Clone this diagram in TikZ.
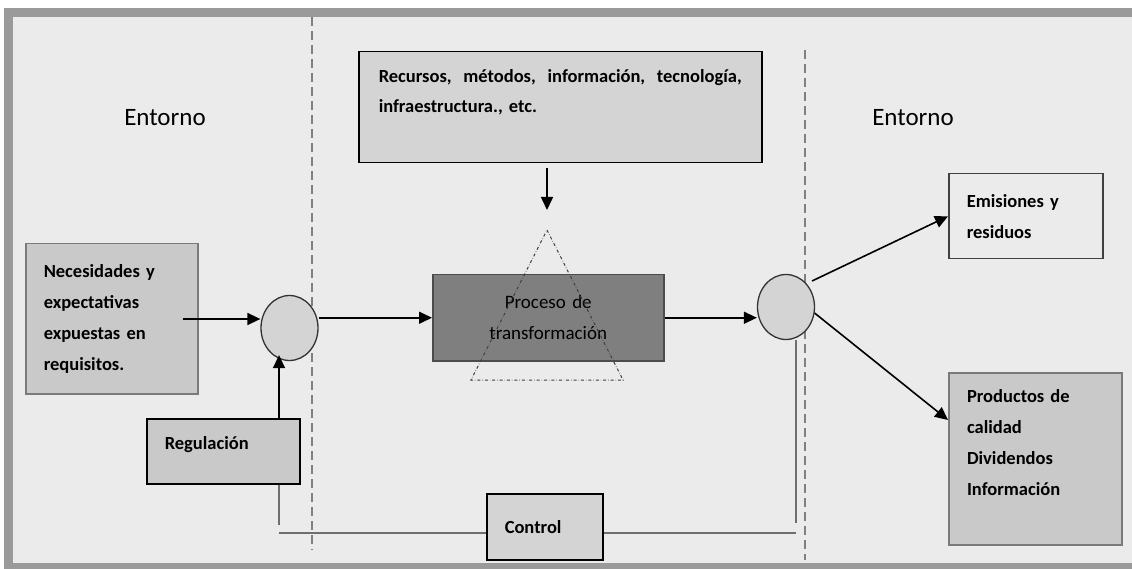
\documentclass[tikz,border=0pt]{standalone}
\usepackage{fontspec}
\setmainfont{Carlito}
\usetikzlibrary{arrows.meta,calc,positioning,shapes.geometric}

\definecolor{fondo}{HTML}{EBEBEB}
\definecolor{marcogris}{HTML}{9A9A9A}
\definecolor{limitegris}{HTML}{808080}
\definecolor{cajagris}{HTML}{C9C9C9}
\definecolor{cajaclara}{HTML}{D4D4D4}
\definecolor{procgris}{HTML}{7F7F7F}
\definecolor{bordegris}{HTML}{7A7A7A}
\definecolor{lazogris}{HTML}{6E6E6E}

\tikzset{
	caja/.style={draw, rectangle, anchor=north west, align=left, inner xsep=18pt, inner ysep=0pt,
		line width=1.5pt, font=\bfseries\fontsize{18.5}{31}\selectfont},
	proceso/.style={draw=black!70, fill=procgris, rectangle, anchor=north west, align=center,
		inner xsep=18pt, inner ysep=0pt, line width=1.5pt, font=\fontsize{19}{31}\selectfont},
	punto/.style={ellipse, draw=black!80, fill=cajaclara, minimum width=57pt, minimum height=65pt,
		inner sep=0pt, line width=1.3pt},
	flecha/.style={-{Triangle[length=13pt,width=12pt]}, line width=1.6pt},
	lazo/.style={draw=lazogris, line width=1.6pt},
	limite/.style={draw=limitegris, dash pattern=on 9pt off 5pt, line width=1.3pt},
	tri/.style={draw=black!75, dash dot, line width=1pt},
	entorno/.style={font=\fontsize{25}{30}\selectfont}
}

\begin{document}
\begin{tikzpicture}[x=1pt,y=-1pt]
	\useasboundingbox (0,0) rectangle (1132,569);
	\fill[fondo] (5,8) rectangle (1150,569);
	\draw[draw=marcogris, line width=8.5pt] (8.5,12.5) rectangle (1160,567.5);
	\draw[limite] (312,17) -- (312,550);
	\draw[limite] (805,50) -- (805,560);
	%
	\node[entorno] (entI) at (165,118) {Entorno};
	\node[entorno] (entD) at (913,118) {Entorno};
	\node[caja, fill=cajaclara, draw=black, inner xsep=20pt, text width=363pt, minimum height=111pt,
		text depth=62pt, font=\bfseries\fontsize{18.5}{30}\selectfont] (rec) at (358,51)
		{Recursos,\hfill métodos,\hfill información,\hfill tecnología,\\ infraestructura., etc.};
	\node[caja, fill=cajagris, draw=bordegris, text width=136pt, minimum height=150pt] (nec) at (25,243)
		{Necesidades y\\ expectativas\\ expuestas en\\ requisitos.};
	\node[caja, fill=cajagris, draw=black, text width=117pt, minimum height=65pt, text depth=16pt] (reg) at (146,418)
		{Regulación};
	\node[caja, fill=cajaclara, draw=black, text width=80pt, minimum height=66pt] (ctrl) at (486,493)
		{Control};
	\node[caja, fill=fondo, draw=black!75, text width=118pt, minimum height=85pt] (emis) at (948,173)
		{Emisiones y\\ residuos};
	\node[caja, fill=cajagris, draw=bordegris, line width=2pt, text width=137pt, minimum height=172pt,
		text depth=125pt] (prod) at (948,372)
		{Productos de\\ calidad\\ Dividendos\\ Información};
	\node[proceso, text width=195pt, minimum height=86pt] (proc) at (432,274)
		{Proceso de\\ transformación};
	\node[punto] (izq) at (289.5,328) {};
	\node[punto] (der) at (786,307) {};
	%
	\coordinate (cima) at (547,230);
	\coordinate (baseI) at (471,380);
	\coordinate (baseD) at (623,380);
	\draw[tri] (cima) -- (baseD) -- (baseI) -- cycle;
	%
	\coordinate (necO) at (183,319);
	\coordinate (lazoI) at (279,525);
	\coordinate (lazoIb) at (279,533);
	\coordinate (lazoD) at (796,523);
	\coordinate (lazoDb) at (796,533);
	\draw[flecha] (necO) -- (necO -| izq.west);
	\draw[flecha] (izq.east |- proc.west) -- (proc.west);
	\draw[flecha] (proc.east) -- (der.west |- proc.east);
	\draw[flecha] (reg.north -| lazoI) -- ($(izq.south -| lazoI)+(0,-6)$);
	\draw[flecha] ($(rec.south -| cima)+(0,5)$) -- ($(cima)+(0,-20)$);
	\draw[flecha, shorten <=6pt] (der.north east) -- (emis.west);
	\draw[flecha] (der.-12) -- ($(prod.north west)+(0,48)$);
	%
	\draw[lazo] (reg.south -| lazoI) -- (lazoI);
	\draw[lazo] (lazoIb) -- (ctrl.west |- lazoIb);
	\draw[lazo] (ctrl.east |- lazoDb) -- (lazoDb);
	\draw[lazo] (der.south -| lazoD) -- (lazoD);
\end{tikzpicture}
\end{document}
